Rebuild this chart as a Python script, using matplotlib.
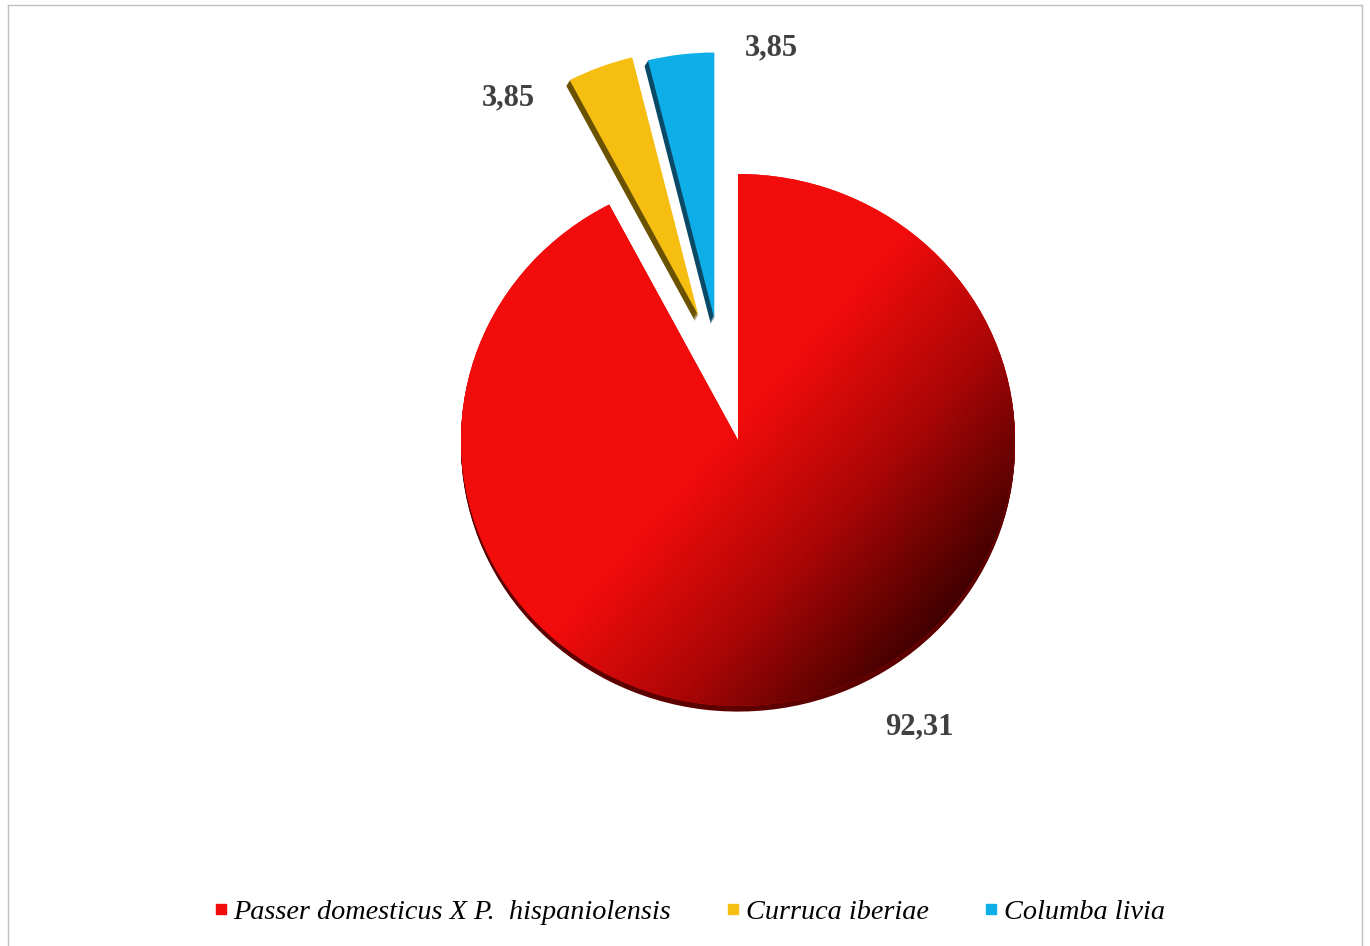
import numpy as np
import matplotlib
matplotlib.use("Agg")
import matplotlib.pyplot as plt
from matplotlib.colors import LinearSegmentedColormap
from matplotlib.lines import Line2D
from matplotlib.patches import Wedge

species = ["Passer domesticus X P.  hispaniolensis", "Curruca iberiae", "Columba livia"]
values = [92.31, 3.85, 3.85]
value_labels = ["92,31", "3,85", "3,85"]
colors = ["#f20c0c", "#f7be12", "#0eaee8"]
side_colors = ["#5c0000", "#6b5200", "#0a4a66"]
explode = [0.0, 0.50, 0.46]
extra_shift = [0.0, 0.035, -0.03]   # nudge the exploded slices, like the 3D view
side_dir = [(0.0, -1.0), (-0.6, -1.0), (-0.6, -1.0)]

# label placement relative to each wedge centre: (distance, angle in degrees)
label_place = [(1.263, -58.7), (1.07, 130), (1.04, 78.5)]

W, H = 1370, 946
RX, RY = 277.0, 266.0   # slightly flattened pie (tilted look)
cx, cy = 738, 440

fig = plt.figure(figsize=(W / 100, H / 100), dpi=100)
ax = fig.add_axes([0, 0, 1, 1])

wedges, _ = ax.pie(values, startangle=90, counterclock=False, explode=explode,
                   colors=colors, radius=1, center=(0, 0), frame=True,
                   wedgeprops=dict(linewidth=0))
ax.set_aspect("auto")
ax.axis("off")
ax.set_xlim(-cx / RX, (W - cx) / RX)
ax.set_ylim((cy - H) / RY, cy / RY)

for w, sh in zip(wedges, extra_shift):
    x0, y0 = w.center
    w.set_center((x0 + sh, y0))

# side faces, offset downward
for w, sc, (dx, dy) in zip(wedges, side_colors, side_dir):
    x0, y0 = w.center
    for k in range(1, 7):
        d = k * 0.0035
        side = Wedge((x0 + dx * d, y0 + dy * d), w.r, w.theta1, w.theta2,
                     facecolor=sc, linewidth=0, zorder=w.get_zorder() - 0.5)
        ax.add_patch(side)

# gradient fill on the big slice
red = wedges[0]
cmap = LinearSegmentedColormap.from_list(
    "redgrad", [(0, "#f20c0c"), (0.48, "#f20c0c"), (0.72, "#ac0606"), (1.0, "#380000")])
n = 400
xs = np.linspace(-1.05, 1.05, n)
ys = np.linspace(-1.05, 1.05, n)
X, Y = np.meshgrid(xs, ys)
ang = np.deg2rad(-40)
t = (X * np.cos(ang) + Y * np.sin(ang)) / 1.05
t = (t + 1) / 2
im = ax.imshow(t, extent=(-1.05, 1.05, -1.05, 1.05), origin="lower", cmap=cmap,
               vmin=0, vmax=1, zorder=red.get_zorder() + 0.1, interpolation="bilinear",
               aspect="auto")
im.set_clip_path(red)

# value labels
for w, txt, (dist, a) in zip(wedges, value_labels, label_place):
    x0, y0 = w.center
    ax.text(x0 + dist * np.cos(np.deg2rad(a)), y0 + dist * np.sin(np.deg2rad(a)), txt,
            ha="center", va="center", fontsize=22, fontweight="bold",
            family="Liberation Serif", color="#404040", zorder=10)

# legend
handles = [Line2D([], [], marker="s", linestyle="none", markersize=7,
                  markerfacecolor=c, markeredgecolor=c) for c in colors]
leg = fig.legend(handles, species, loc="center", bbox_to_anchor=(0.503, 0.036),
                 ncol=3, frameon=False, handlelength=0.5, handletextpad=0.2,
                 columnspacing=1.95, prop=dict(family="Liberation Serif", style="italic", size=20.3))

# thin border like the chart area
bc = "#c0c0c0"
fig.add_artist(Line2D([8 / W, 8 / W], [0, 1 - 5 / H], color=bc, lw=1))
fig.add_artist(Line2D([1362 / W, 1362 / W], [0, 1 - 5 / H], color=bc, lw=1))
fig.add_artist(Line2D([8 / W, 1362 / W], [1 - 5 / H, 1 - 5 / H], color=bc, lw=1))

fig.savefig("out.png", dpi=100)
